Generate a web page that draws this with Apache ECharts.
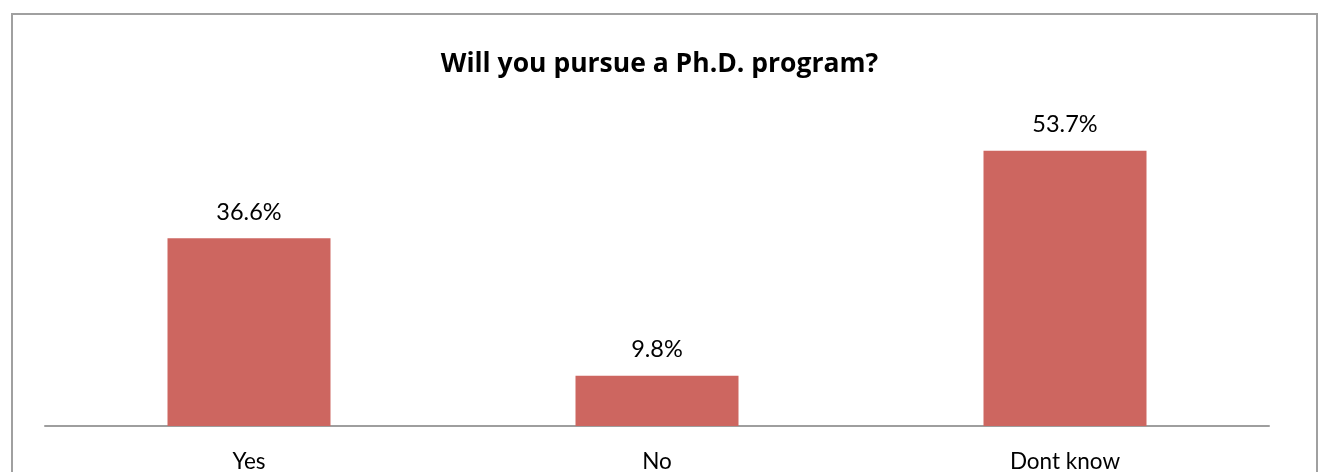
<!DOCTYPE html>
<html>
<head>
<meta charset="utf-8">
<style>
  html, body { margin: 0; padding: 0; background: #fff; }
  #chart { width: 1319px; height: 472px; }
</style>
<script src="https://cdn.jsdelivr.net/npm/echarts@6/dist/echarts.min.js"></script>
</head>
<body>
<div id="chart"></div>
<script>
const categories = ['Yes', 'No', 'Dont know'];
const shares = [36.6, 9.8, 53.7];

const chart = echarts.init(document.getElementById('chart'), null, { renderer: 'canvas' });
const FONT = 'Lato, "Open Sans", sans-serif';

chart.setOption({
  animation: false,
  backgroundColor: '#ffffff',
  title: {
    text: 'Will you pursue a Ph.D. program?',
    left: 'center',
    top: 46,
    textStyle: { fontFamily: '"Open Sans", sans-serif', fontWeight: 'bold', fontSize: 26.5, color: '#000' }
  },
  graphic: [{
    type: 'rect',
    shape: { x: 12, y: 14, width: 1305, height: 470 },
    style: { fill: null, stroke: '#a0a0a0', lineWidth: 2 },
    silent: true
  }],
  grid: { left: 45, right: 50, top: 118.4, bottom: 46, outerBoundsMode: 'none', containLabel: false },
  xAxis: {
    type: 'category',
    data: categories,
    axisLine: { lineStyle: { color: '#9e9e9e', width: 2 } },
    axisTick: { show: false },
    axisLabel: { fontFamily: FONT, fontSize: 22.5, color: '#000', margin: 24 }
  },
  yAxis: {
    type: 'value',
    min: 0,
    max: 60,
    show: false,
    splitLine: { show: false }
  },
  series: [{
    type: 'bar',
    data: shares,
    barWidth: 163,
    itemStyle: { color: '#cd6660' },
    label: {
      show: true,
      position: 'top',
      distance: 14,
      fontFamily: FONT,
      fontSize: 23.5,
      color: '#000',
      formatter: p => p.value.toFixed(1) + '%'
    }
  }]
});
</script>
</body>
</html>
